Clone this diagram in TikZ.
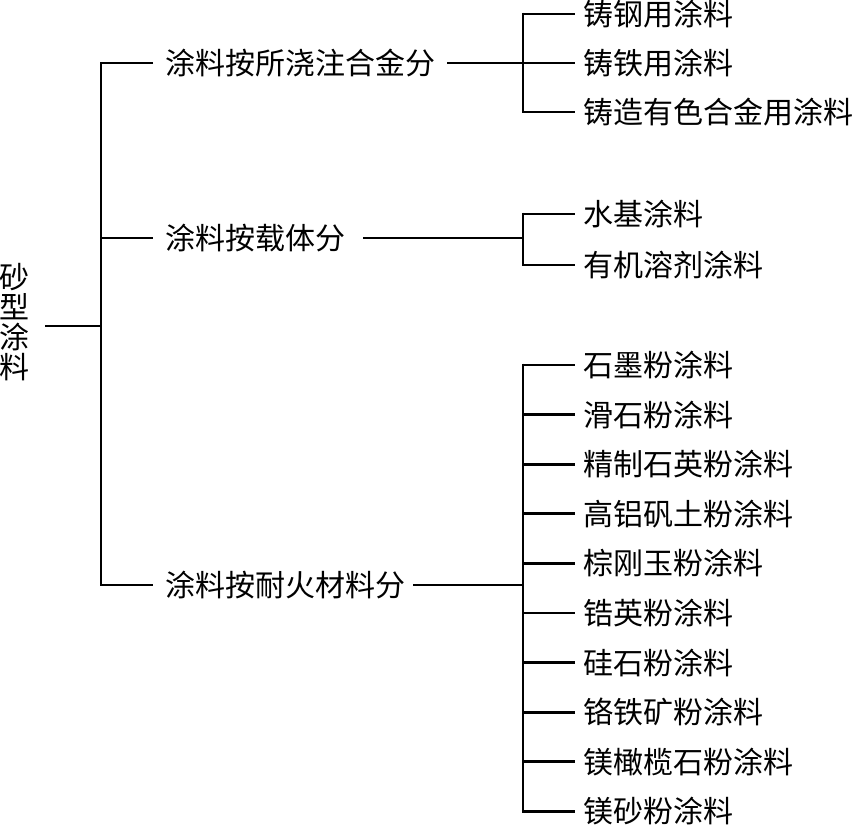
\documentclass[tikz,border=0pt]{standalone}
\usepackage{fontspec}
\newfontfamily\cjk{Noto Sans CJK SC}
\usetikzlibrary{positioning}

\tikzset{
    tree/.style={line width=2.7pt},
    cls/.style={anchor=west, inner xsep=12pt, inner ysep=0pt, font=\cjk\fontsize{30}{30}\selectfont},
    leaf/.style={anchor=west, inner xsep=8pt, inner ysep=0pt, font=\cjk\fontsize{30}{30}\selectfont}
}

\begin{document}
\begin{tikzpicture}[x=1pt, y=-1pt]
    \useasboundingbox (0,0) rectangle (853,828);

    % root
    \node[inner sep=0pt, align=center, font=\cjk\fontsize{30}{30}\selectfont] (root) at (14,322) {砂\\型\\涂\\料};
    \coordinate (T) at (101,326);
    \coordinate (T1) at (101,63);
    \coordinate (T2) at (101,238);
    \coordinate (T3) at (101,585);

    % classes
    \node[cls] (a) at (153,63) {涂料按所浇注合金分};
    \node[cls] (b) at (153,238) {涂料按载体分};
    \node[cls] (c) at (153,585) {涂料按耐火材料分};

    \draw[tree] (root.east |- T) ++(16,0) -- (T);
    \draw[tree] (a.west) -- (T1) -- (T3) -- (c.west);
    \draw[tree] (T2) -- (b.west);

    % leaves
    \foreach \t [count=\i] in {铸钢用涂料, 铸铁用涂料, 铸造有色合金用涂料} {
        \coordinate (ax\i) at (523,{14+(\i-1)*49});
        \node[leaf] (a\i) at (575,{14+(\i-1)*49}) {\t};
        \draw[tree] (ax\i) -- (a\i.west);
    }
    \foreach \t [count=\i] in {水基涂料, 有机溶剂涂料} {
        \coordinate (bx\i) at (523,{214+(\i-1)*51});
        \node[leaf] (b\i) at (575,{214+(\i-1)*51}) {\t};
        \draw[tree] (bx\i) -- (b\i.west);
    }
    \foreach \t [count=\i] in {石墨粉涂料, 滑石粉涂料, 精制石英粉涂料, 高铝矾土粉涂料, 棕刚玉粉涂料,
                               锆英粉涂料, 硅石粉涂料, 铬铁矿粉涂料, 镁橄榄石粉涂料, 镁砂粉涂料} {
        \coordinate (cx\i) at (523,{365+(\i-1)*49.6});
        \node[leaf] (c\i) at (575,{365+(\i-1)*49.6}) {\t};
        \draw[tree] (cx\i) -- (c\i.west);
    }

    \draw[tree] ([yshift=1.35pt]ax1) -- ([yshift=-1.35pt]ax3);
    \draw[tree] ([yshift=1.35pt]bx1) -- ([yshift=-1.35pt]bx2);
    \draw[tree] ([yshift=1.35pt]cx1) -- ([yshift=-1.35pt]cx10);

    \draw[tree] (a.east) -- (a.east -| ax1);
    \draw[tree] ([xshift=6pt]b.east) -- (b.east -| bx1);
    \draw[tree] ([xshift=-4pt]c.east) -- (c.east -| cx1);
\end{tikzpicture}
\end{document}
